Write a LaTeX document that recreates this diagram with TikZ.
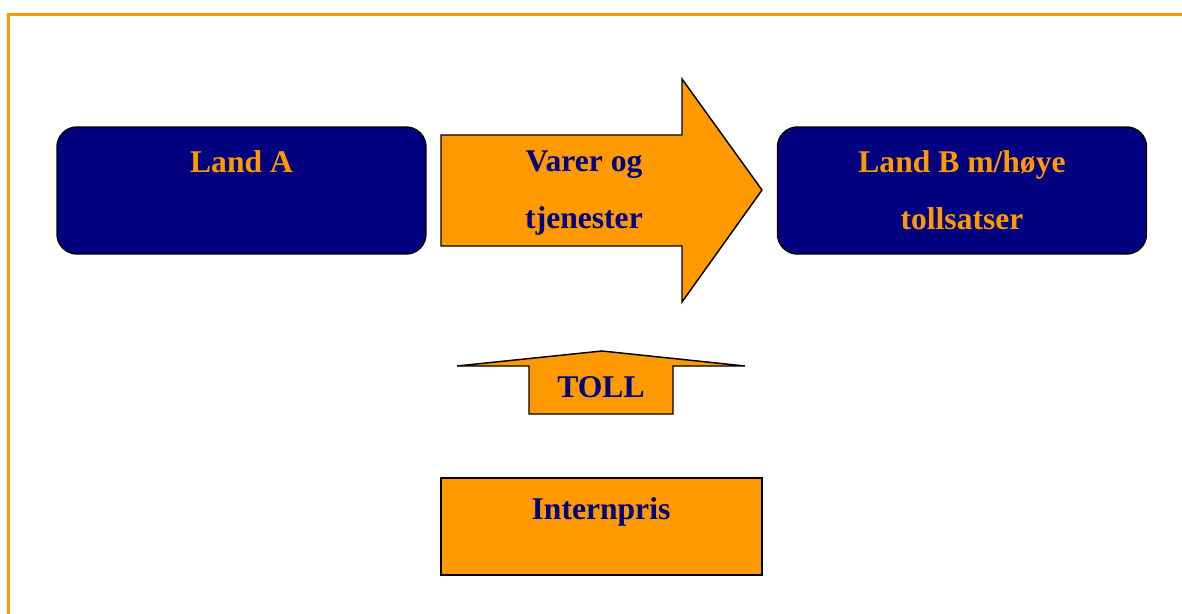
\documentclass[tikz,border=0pt]{standalone}
\usepackage{fontspec}
\setmainfont{Liberation Serif}
\usetikzlibrary{positioning}

\definecolor{navyblue}{HTML}{000080}
\definecolor{tollorange}{HTML}{FF9900}

\begin{document}
\begin{tikzpicture}[
    x=0.75pt, y=-0.75pt,
    landbox/.style = {
        rounded corners=15pt,
        draw,
        line width=1.1pt,
        fill=navyblue,
        text=tollorange,
        align=center,
        font=\fontsize{23.7}{42.75}\selectfont\bfseries,
        minimum width=276.75pt,
        minimum height=95.25pt,
        inner sep=0pt
    },
    pricebox/.style = {
        draw,
        line width=1.1pt,
        fill=tollorange,
        minimum width=240.75pt,
        minimum height=72.75pt,
        inner sep=0pt
    },
    blockarrow/.style = {draw, line width=1.1pt, fill=tollorange, line join=miter},
    lbl/.style = {
        text=navyblue,
        align=center,
        font=\fontsize{23.7}{42.75}\selectfont\bfseries,
        inner sep=0pt
    },
    frame/.style = {draw=tollorange, line width=2.25pt}
]

\useasboundingbox (0,0) rectangle (1182,614);

%% ── Ramme ──────────────────────────────────────────────────────────────────

\draw[frame] (1182,14) -- (8,14) -- (8,614);

%% ── Bokser ─────────────────────────────────────────────────────────────────

\node[landbox] (landA) at (241.5,190.5) {Land A\\~};

\node[landbox] (landB) at (962,190.5)   {Land B m/høye\\tollsatser};

\node[pricebox] (intern) at (601.5,526.5) {};

%% ── Piler ──────────────────────────────────────────────────────────────────

% Varer og tjenester: Land A -> Land B
\draw[blockarrow] (441,135) -- (682,135) -- (682,79) -- (762,190)
    -- (682,302) -- (682,246) -- (441,246) -- cycle;

% Toll: peker opp fra internpris
\draw[blockarrow] (529,414) -- (529,366) -- (457,366) -- (602,351)
    -- (745,366) -- (673,366) -- (673,414) -- cycle;

%% ── Tekster ────────────────────────────────────────────────────────────────

\node[lbl] (varer)    at (584,193)   {Varer og\\tjenester};
\node[lbl] (toll)     at (601,387)   {TOLL};
\node[lbl] (internLb) at (601,512)   {Internpris};

\end{tikzpicture}
\end{document}
